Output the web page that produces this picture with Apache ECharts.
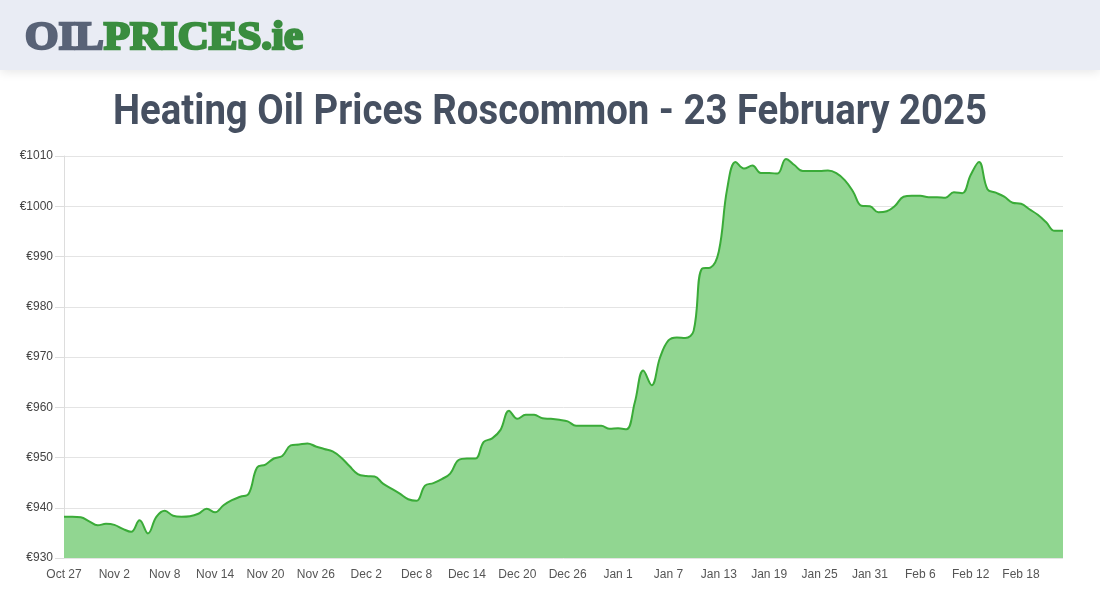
<!DOCTYPE html>
<html>
<head>
<meta charset="utf-8">
<script src="https://cdn.jsdelivr.net/npm/echarts@6/dist/echarts.min.js"></script>
<style>
html,body{margin:0;padding:0;background:#fff;}
#chart{width:1100px;height:600px;}
</style>
</head>
<body>
<div id="chart"></div>
<script>
const titleText = 'Heating Oil Prices Roscommon - 23 February 2025';
const logoParts = ['OIL', 'PRICES.ie'];
const categories = [
 'Oct 27','Oct 28','Oct 29','Oct 30','Oct 31',
 'Nov 1','Nov 2','Nov 3','Nov 4','Nov 5','Nov 6','Nov 7','Nov 8','Nov 9','Nov 10','Nov 11','Nov 12','Nov 13','Nov 14','Nov 15','Nov 16','Nov 17','Nov 18','Nov 19','Nov 20','Nov 21','Nov 22','Nov 23','Nov 24','Nov 25','Nov 26','Nov 27','Nov 28','Nov 29','Nov 30',
 'Dec 1','Dec 2','Dec 3','Dec 4','Dec 5','Dec 6','Dec 7','Dec 8','Dec 9','Dec 10','Dec 11','Dec 12','Dec 13','Dec 14','Dec 15','Dec 16','Dec 17','Dec 18','Dec 19','Dec 20','Dec 21','Dec 22','Dec 23','Dec 24','Dec 25','Dec 26','Dec 27','Dec 28','Dec 29','Dec 30','Dec 31',
 'Jan 1','Jan 2','Jan 3','Jan 4','Jan 5','Jan 6','Jan 7','Jan 8','Jan 9','Jan 10','Jan 11','Jan 12','Jan 13','Jan 14','Jan 15','Jan 16','Jan 17','Jan 18','Jan 19','Jan 20','Jan 21','Jan 22','Jan 23','Jan 24','Jan 25','Jan 26','Jan 27','Jan 28','Jan 29','Jan 30','Jan 31',
 'Feb 1','Feb 2','Feb 3','Feb 4','Feb 5','Feb 6','Feb 7','Feb 8','Feb 9','Feb 10','Feb 11','Feb 12','Feb 13','Feb 14','Feb 15','Feb 16','Feb 17','Feb 18','Feb 19','Feb 20','Feb 21','Feb 22','Feb 23'
];
const prices = [
 938.2,938.2,938.1,937.3,936.5,
 936.8,936.6,935.8,935.2,937.5,934.9,938.2,939.4,938.4,938.2,938.3,938.8,939.8,939.1,940.5,941.5,942.2,942.8,948.0,948.6,949.8,950.3,952.4,952.6,952.8,952.2,951.7,951.2,950.0,948.3,
 946.7,946.3,946.2,944.8,943.8,942.8,941.7,941.4,944.4,944.9,945.7,946.8,949.5,949.8,949.8,953.1,953.8,955.5,959.3,957.7,958.5,958.5,957.8,957.7,957.5,957.2,956.3,956.3,956.3,956.3,955.7,
 955.8,955.6,961.0,967.3,964.4,969.9,973.3,973.9,973.8,975.2,987.6,987.8,991.0,1003.5,1008.8,1007.5,1008.1,1006.6,1006.6,1006.5,1009.4,1008.2,1007.0,1007.0,1007.0,1007.1,1006.6,1005.2,1002.9,1000.1,1000.0,
 998.8,999.0,1000.1,1001.9,1002.1,1002.1,1001.8,1001.8,1001.7,1002.8,1002.6,1006.2,1008.8,1003.4,1002.7,1001.9,1000.7,1000.5,999.4,998.3,996.8,995.1,995.1
];
const yMin = 930, yMax = 1010, yStep = 10;

// text measurement for fitting condensed headline and logo widths
const mctx = document.createElement('canvas').getContext('2d');
function measure(font, txt){ mctx.font = font; return mctx.measureText(txt).width; }

const titleFS = 43;
const titleFont = 'bold ' + titleFS + 'px Roboto';
const titleW = measure(titleFont, titleText);
const titleScale = 874 / titleW;

const logoFS = 40;
const logoFont = 'bold ' + logoFS + 'px "Liberation Serif"';
const logoW = measure(logoFont, logoParts[0] + logoParts[1]);
const logoScale = 278 / logoW;

const chart = echarts.init(document.getElementById('chart'), null, {renderer:'canvas'});
chart.setOption({
  animation:false,
  backgroundColor:'#ffffff',
  graphic:[
    {type:'rect', x:0, y:0, z:-1, shape:{width:1100,height:70}, style:{fill:'#e9ecf4', shadowBlur:10, shadowColor:'rgba(0,0,0,0.10)', shadowOffsetY:2}},
    {type:'text', x:25, y:39, scaleX:logoScale, style:{
      text:'{a|' + logoParts[0] + '}{b|' + logoParts[1] + '}',
      verticalAlign:'middle', align:'left',
      rich:{
        a:{fill:'#596377', stroke:'#596377', lineWidth:2.5, fontFamily:'Liberation Serif', fontWeight:'bold', fontSize:logoFS},
        b:{fill:'#3a8d3f', stroke:'#3a8d3f', lineWidth:2.5, fontFamily:'Liberation Serif', fontWeight:'bold', fontSize:logoFS}
      }
    }},
    {type:'text', x:113, y:113, scaleX:titleScale, style:{
      text:titleText, fill:'#465061', fontFamily:'Roboto', fontWeight:'bold', fontSize:titleFS,
      verticalAlign:'middle', align:'left'
    }}
  ],
  grid:{left:64, right:37, top:156, bottom:42},
  xAxis:{
    type:'category', data:categories, boundaryGap:false,
    axisLine:{show:false}, axisTick:{show:false},
    axisLabel:{interval:5, color:'#555', fontFamily:'Liberation Sans', fontSize:12, margin:11},
    splitLine:{show:false}
  },
  yAxis:{
    type:'value', min:yMin, max:yMax, interval:yStep,
    axisLine:{show:true, lineStyle:{color:'#dddddd'}},
    axisTick:{show:true, length:9, lineStyle:{color:'#dddddd'}},
    axisLabel:{formatter:function(v){return '€' + v;}, color:'#444', fontFamily:'Liberation Sans', fontSize:12, margin:11},
    splitLine:{lineStyle:{color:'#e4e4e4'}}
  },
  series:[{
    type:'line', data:prices, smooth:0.4, symbol:'none',
    lineStyle:{color:'#3aab38', width:2},
    areaStyle:{color:'#91d691', opacity:1}
  }]
});
</script>
</body>
</html>
